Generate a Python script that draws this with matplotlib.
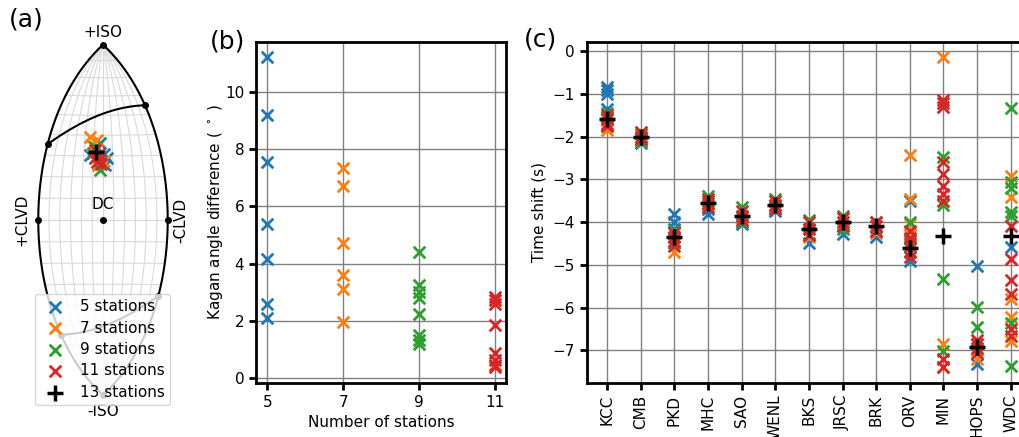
import numpy as np
import matplotlib.pyplot as plt

# ---- data -------------------------------------------------------------
groups = ['5 stations', '7 stations', '9 stations', '11 stations']
colors = ['C0', 'C1', 'C2', 'C3']

# (a) source types on the lune: (gamma, delta) in degrees
lune_5 = [(2.2, 28.8), (1.0, 25.6), (-1.6, 36.2), (-6.7, 30.4), (0.5, 31.0)]
lune_7 = [(-7.3, 39.2), (-3.5, 37.6), (-2.5, 25.6), (-6.1, 35.2), (0.5, 27.5)]
lune_9 = [(-1.5, 23.2), (-4.3, 34.4), (-2.0, 30.0), (-5.0, 31.5)]
lune_11 = [(-4.0, 33.0), (-3.0, 30.0), (-2.0, 28.0), (-4.0, 29.0),
           (-1.0, 26.0), (-3.0, 27.0), (-2.0, 31.0)]
lune_13 = (-3.8, 32.0)

# (b) Kagan angle differences
kagan_5 = [11.2, 9.2, 7.55, 5.4, 4.15, 2.6, 2.1]
kagan_7 = [7.33, 6.72, 4.73, 3.62, 3.13, 1.96]
kagan_9 = [4.4, 3.25, 3.0, 2.8, 2.25, 1.5, 1.35, 1.2]
kagan_11 = [2.85, 2.75, 2.6, 1.85, 0.9, 0.65, 0.45, 0.38]
n_stations = [5, 7, 9, 11]

# (c) time shifts per station
stations = ['KCC', 'CMB', 'PKD', 'MHC', 'SAO', 'WENL', 'BKS', 'JRSC', 'BRK',
            'ORV', 'MIN', 'HOPS', 'WDC']
shift_5 = [[-0.85, -0.92, -1.0, -1.35, -1.55], [-2.15, -2.0], [-3.8, -4.0, -4.15],
           [-3.7, -3.8], [-4.0, -4.05], [-3.65, -3.75], [-4.5], [-4.27], [-4.35],
           [-3.5, -4.9], [], [-5.02, -7.32], [-4.59]]
shift_7 = [[-1.6, -1.85, -1.7], [-2.1, -1.95], [-4.7, -4.5], [-3.6], [-3.9],
           [-3.6], [-4.35], [-4.1], [-4.25], [-2.43, -3.46, -4.05, -4.3],
           [-0.15, -6.84, -7.4], [-7.2, -7.0], [-2.91, -3.42, -5.79, -6.23, -6.78]]
shift_9 = [[-1.45, -1.55, -1.75], [-1.95, -2.05, -2.1], [-4.2, -4.5, -4.35],
           [-3.4, -3.5], [-3.65, -4.0], [-3.45, -3.7], [-3.95, -4.3], [-3.85, -4.15],
           [-4.0, -4.2], [-4.0, -4.4, -4.55], [-2.48, -3.61, -5.33, -7.01],
           [-5.98, -6.46, -6.85], [-1.33, -3.07, -3.2, -3.77, -3.85, -6.35, -7.36]]
shift_11 = [[-1.5, -1.6, -1.7, -1.75], [-1.9, -2.0, -2.05], [-4.25, -4.35, -4.45, -4.55],
            [-3.45, -3.55, -3.65], [-3.75, -3.85, -3.95], [-3.5, -3.6, -3.7],
            [-4.0, -4.15, -4.3], [-3.9, -4.0, -4.1], [-4.0, -4.1, -4.2],
            [-4.2, -4.36, -4.5, -4.7, -4.82],
            [-1.15, -1.22, -1.3, -2.6, -2.87, -3.15, -3.34, -3.5, -7.2, -7.38],
            [-6.75, -6.85, -6.95, -7.05], [-4.08, -4.86, -5.35, -5.68, -6.5, -6.66]]
shift_13 = [-1.6, -2.0, -4.35, -3.55, -3.85, -3.6, -4.15, -4.0, -4.1, -4.6,
            -4.33, -6.93, -4.33]

FS = 11


def hammer(lon, lat):
    lam = np.radians(np.asarray(lon, float))
    phi = np.radians(np.asarray(lat, float))
    d = np.sqrt(1 + np.cos(phi) * np.cos(lam / 2))
    x = 2 * np.sqrt(2) * np.cos(phi) * np.sin(lam / 2) / d
    y = np.sqrt(2) * np.sin(phi) / d
    return x, y


def lune(ev):
    l1, l2, l3 = sorted(ev, reverse=True)
    gam = np.degrees(np.arctan2(-l1 + 2 * l2 - l3, np.sqrt(3) * (l1 - l3)))
    dlt = 90 - np.degrees(np.arccos((l1 + l2 + l3) / (np.sqrt(3) * np.linalg.norm(ev))))
    return gam, dlt


fig = plt.figure(figsize=(10.2, 4.37), dpi=100)

# ---- (a) lune ----------------------------------------------------------
ax_a = fig.add_axes([0, 0, 206 / 1020, 1])
ax_a.set_xlim(-103 / 124, 103 / 124)
ax_a.set_ylim(-217 / 124, 220 / 124)
ax_a.axis('off')

lat = np.linspace(-90, 90, 181)
for g in range(-25, 26, 5):
    x, y = hammer(np.full_like(lat, g), lat)
    ax_a.plot(x, y, color='0.85', lw=0.8, zorder=1)
lon = np.linspace(-30, 30, 61)
for d in range(-80, 81, 10):
    x, y = hammer(lon, np.full_like(lon, d))
    ax_a.plot(x, y, color='0.85', lw=0.8, zorder=1)
for g in (-30, 30):
    x, y = hammer(np.full_like(lat, g), lat)
    ax_a.plot(x, y, color='k', lw=1.5, zorder=2)

t = np.linspace(0, 1, 50)
top_arc = np.array([lune((1, s, 0)) for s in t])
bot_arc = np.array([lune((0, -s, -1)) for s in t])
for arc in (top_arc, bot_arc):
    x, y = hammer(arc[:, 0], arc[:, 1])
    ax_a.plot(x, y, color='k', lw=1.5, zorder=2)

special = [(0, 90), (0, -90), (0, 0), (-30, 0), (30, 0),
           lune((1, 0, 0)), lune((1, 1, 0)), lune((0, 0, -1)), lune((0, -1, -1))]
sx, sy = hammer([p[0] for p in special], [p[1] for p in special])
ax_a.plot(sx, sy, 'o', color='k', ms=4, zorder=3)

ax_a.text(0, 1.516, '+ISO', ha='center', va='center', fontsize=FS)
ax_a.text(0, -1.545, '-ISO', ha='center', va='center', fontsize=FS)
ax_a.text(0, 0.125, 'DC', ha='center', va='center', fontsize=FS)
ax_a.text(-0.655, 0, '+CLVD', ha='center', va='center', fontsize=FS, rotation=90)
ax_a.text(0.63, 0, '-CLVD', ha='center', va='center', fontsize=FS, rotation=90)

for pts, c, lab in zip([lune_5, lune_7, lune_9, lune_11], colors, groups):
    x, y = hammer([p[0] for p in pts], [p[1] for p in pts])
    ax_a.scatter(x, y, marker='x', s=70, linewidths=2, color=c, label=lab, zorder=4)
x, y = hammer([lune_13[0]], [lune_13[1]])
ax_a.scatter(x, y, marker='+', s=130, linewidths=2.5, color='k', label='13 stations', zorder=5)
ax_a.legend(loc='lower center', bbox_to_anchor=(0.4976, 0.073), borderaxespad=0,
            fontsize=FS, handletextpad=0.6, labelspacing=0.42, borderpad=0.35)

# ---- (b) Kagan angle ---------------------------------------------------
ax_b = fig.add_axes([256 / 1020, 0.1236, 250 / 1020, 0.7803])
for n, vals, c in zip(n_stations, [kagan_5, kagan_7, kagan_9, kagan_11], colors):
    ax_b.scatter([n] * len(vals), vals, marker='x', s=70, linewidths=2, color=c, zorder=3)
ax_b.set_xticks(n_stations)
ax_b.set_xlabel('Number of stations', fontsize=FS)
ax_b.set_ylabel('Kagan angle difference ( $^\\circ$ )', fontsize=FS, labelpad=0)

# ---- (c) time shifts ---------------------------------------------------
ax_c = fig.add_axes([586.7 / 1020, 0.1236, 444.3 / 1020, 0.7803])
for shifts, c in zip([shift_5, shift_7, shift_9, shift_11], colors):
    xs = [i for i, v in enumerate(shifts) for _ in v]
    ys = [y for v in shifts for y in v]
    ax_c.scatter(xs, ys, marker='x', s=70, linewidths=2, color=c, zorder=3)
ax_c.scatter(range(len(stations)), shift_13, marker='+', s=130, linewidths=2.5,
             color='k', zorder=4)
ax_c.set_xticks(range(len(stations)))
ax_c.set_xticklabels(stations, rotation=90)
ax_c.set_ylabel('Time shift (s)', fontsize=FS)

for ax in (ax_b, ax_c):
    for sp in ax.spines.values():
        sp.set_linewidth(2)
    ax.tick_params(width=2, length=5, labelsize=FS)
    ax.grid(True, color='gray', lw=1)
    ax.set_axisbelow(True)

fig.text(26 / 1020, 1 - 19 / 437, '(a)', fontsize=18, ha='center', va='center')
fig.text(228 / 1020, 1 - 42 / 437, '(b)', fontsize=18, ha='center', va='center')
fig.text(541 / 1020, 1 - 40 / 437, '(c)', fontsize=18, ha='center', va='center')

fig.savefig('out.png', dpi=100)
